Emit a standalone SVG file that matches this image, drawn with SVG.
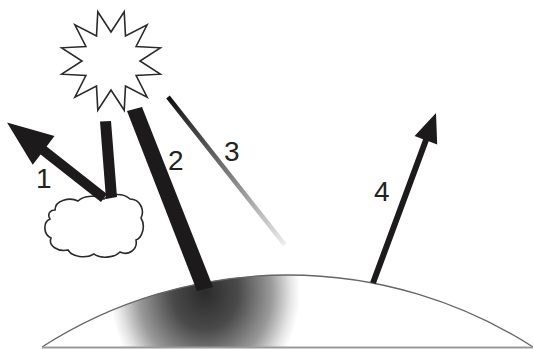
<svg xmlns="http://www.w3.org/2000/svg" width="533" height="349" viewBox="0 0 533 349">
  <style>
    .outline { fill: #fff; stroke: #2a2a2a; stroke-width: 1.6; stroke-linejoin: miter; }
    .ray { fill: #1c1a1a; stroke: none; }
    .num { font-family: "Liberation Sans", Arial, sans-serif; font-size: 28px; fill: #222; }
  </style>
  <defs>
    <radialGradient id="absorbed" gradientUnits="userSpaceOnUse" cx="205" cy="292" r="95" gradientTransform="translate(205 292) scale(1 1.15) translate(-205 -292)">
      <stop offset="0" stop-color="#2b2b2b"/>
      <stop offset="0.35" stop-color="#4a4a4a"/>
      <stop offset="0.7" stop-color="#9a9a9a"/>
      <stop offset="0.9" stop-color="#e4e4e4"/>
      <stop offset="1" stop-color="#ffffff"/>
    </radialGradient>
    <linearGradient id="scatter" gradientUnits="userSpaceOnUse" x1="168" y1="97" x2="285" y2="245">
      <stop offset="0" stop-color="#111"/>
      <stop offset="0.5" stop-color="#777"/>
      <stop offset="1" stop-color="#eee"/>
    </linearGradient>
    <clipPath id="domeClip">
      <path d="M42,347 A454.5,454.5 0 0 1 533,347 Z"/>
    </clipPath>
  </defs>

  <!-- ground dome with absorbed-energy shading -->
  <g id="earth">
    <path d="M42,347 A454.5,454.5 0 0 1 533,347 Z" fill="#fff"/>
    <rect x="0" y="260" width="533" height="89" fill="url(#absorbed)" clip-path="url(#domeClip)"/>
    <path d="M42,347 A454.5,454.5 0 0 1 533,347" fill="none" stroke="#666" stroke-width="1.3"/>
    <line x1="42" y1="347.5" x2="533" y2="347.5" stroke="#999" stroke-width="2"/>
  </g>

  <!-- sun -->
  <g id="sun">
    <polygon class="outline" points="111,32 124.2,11.7 125.5,35.9 147.1,24.9 136.1,46.5 160.3,47.8 140,61 160.3,74.2 136.1,75.5 147.1,97.1 125.5,86.1 124.2,110.3 111,90 97.8,110.3 96.5,86.1 74.9,97.1 85.9,75.5 61.7,74.2 82,61 61.7,47.8 85.9,46.5 74.9,24.9 96.5,35.9 97.8,11.7"/>
  </g>

  <!-- cloud -->
  <g id="cloud">
    <path class="outline" stroke-width="2" d="M55,210 C55,200 70,197 78,201 C84,195 98,195 104,199 C110,193 124,193 130,199 C140,199 145,210 141,218 C146,226 142,238 136,240 C138,250 128,256 120,252 C114,258 100,259 94,254 C86,259 72,257 68,250 C58,252 48,246 51,238 C43,234 43,222 50,219 C47,214 50,210 55,210 Z"/>
  </g>

  <!-- radiation paths -->
  <g id="connectors">
    <polygon class="ray" points="100,121.5 111,121 117,197 106,199"/>
    <polygon class="ray" points="107,194 46.6,146.4 54.5,136.1 7,122.5 32.7,164.7 40.6,154.4 101,202"/>
    <polygon class="ray" points="127,111 142,107 213,287 197,291"/>
    <line x1="168" y1="97" x2="285" y2="245" stroke="url(#scatter)" stroke-width="4.5"/>
    <polygon class="ray" points="370.2,282 423.1,139.2 414.6,136 436,113 437.2,144.4 428.7,141.2 375.8,284"/>
  </g>

  <!-- path numbers -->
  <g id="labels">
    <text class="num" x="36" y="188">1</text>
    <text class="num" x="168" y="170">2</text>
    <text class="num" x="224" y="161">3</text>
    <text class="num" x="374" y="201">4</text>
  </g>
</svg>
